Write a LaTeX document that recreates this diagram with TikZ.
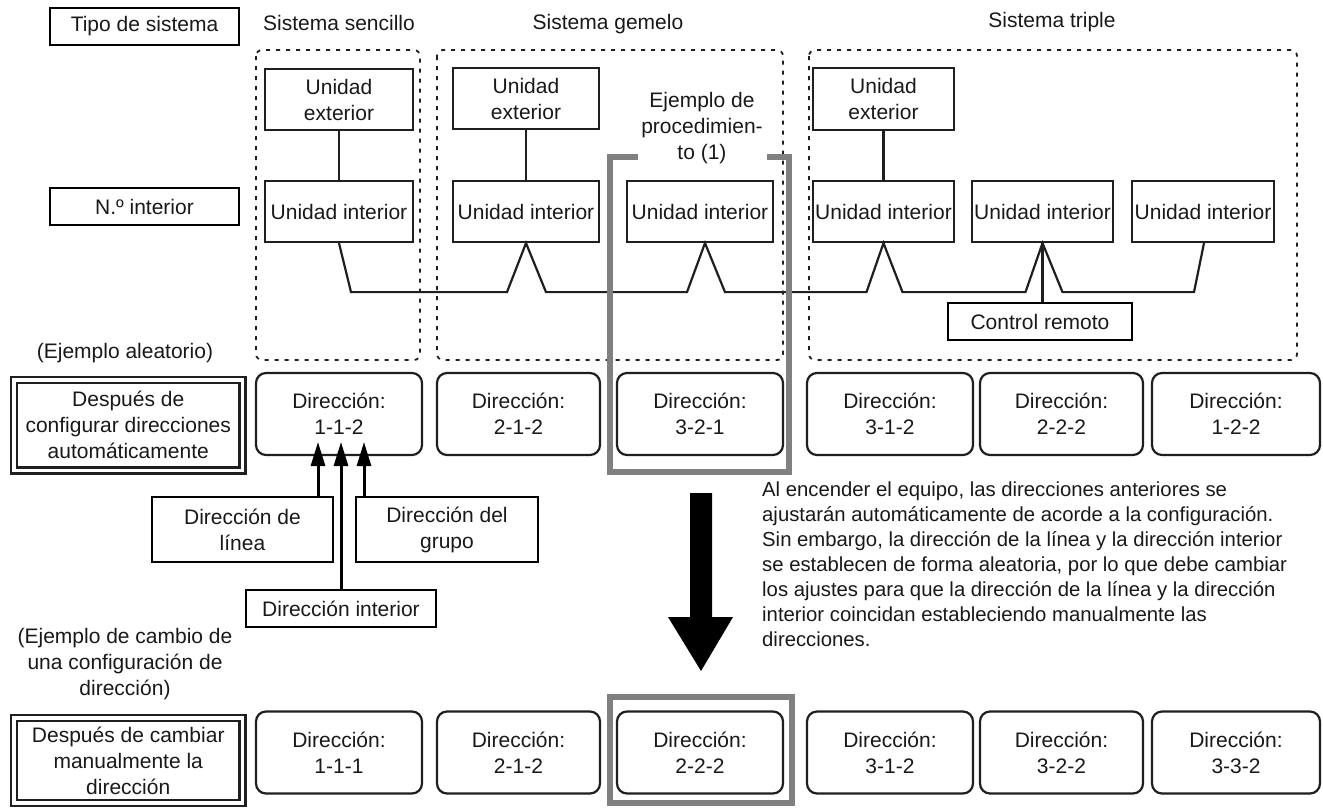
\documentclass[tikz,border=0pt]{standalone}
\usepackage{fontspec}
\setmainfont{Liberation Sans}
\usetikzlibrary{arrows.meta,calc}
\begin{document}
\begin{tikzpicture}[x=1pt,y=-1pt,
  font=\fontsize{21}{26}\selectfont,
  every node/.style={inner sep=0pt, align=center, text=black!90},
  box/.style={draw=black!88, line width=2.2pt},
  lbl/.style={draw=black, line width=2.8pt},
  addr/.style={draw=black!88, line width=2.2pt, rounded corners=10pt, minimum height=82pt},
  dbl/.style={draw=black!88, double=white, line width=2.2pt, double distance=3.8pt},
  grp/.style={draw=black!88, line width=1.8pt, dash pattern=on 4pt off 6pt, rounded corners=6pt},
  conn/.style={draw=black!88, line width=2.2pt, line join=miter},
  ptr/.style={draw=black, line width=3pt, -{Triangle[width=14pt,length=24pt]}},
  hl/.style={draw=black!50, line width=6.5pt}]
\useasboundingbox (0,0) rectangle (1323,807);
\fill[white] (0,0) rectangle (1323,807);

% left labels
\node[lbl, line width=2.4pt, minimum width=189pt, minimum height=37pt] (tipo) at (144.5,26.5) {Tipo de sistema};
\node[lbl, line width=2.4pt, minimum width=189pt, minimum height=37pt] (nint) at (144.5,206.5) {N.º interior};

% system titles
\node (ls) at (339,23) {Sistema sencillo};
\node (lt) at (608,24) {Sistema gemelo};
\node (lr) at (1052,22) {Sistema triple};

% group frames
\draw[grp] (256,50) rectangle (420,360);
\draw[grp] (437,50) rectangle (783,360);
\draw[grp] (809,50) rectangle (1297,360);

% outdoor units
\node[box, minimum width=148pt, minimum height=61pt] (so) at (339,99.5) {Unidad\\exterior};
\node[box, minimum width=146pt, minimum height=61pt] (to) at (526,98.5) {Unidad\\exterior};
\node[box, minimum width=141pt, minimum height=62pt] (ro) at (883.5,99) {Unidad\\exterior};

% indoor units
\node[box, minimum width=148pt, minimum height=61pt] (si) at (339,211.5) {Unidad interior};
\node[box, minimum width=146pt, minimum height=61pt] (ti1) at (526,211.5) {Unidad interior};
\node[box, minimum width=146pt, minimum height=61pt] (ti2) at (700,211.5) {Unidad interior};
\node[box, minimum width=141pt, minimum height=61pt] (ri1) at (883.5,211.5) {Unidad interior};
\node[box, minimum width=141pt, minimum height=61pt] (ri2) at (1042.5,211.5) {Unidad interior};
\node[box, minimum width=142pt, minimum height=61pt] (ri3) at (1203,211.5) {Unidad interior};

\node (proc) at (702,128) {Ejemplo de\\procedimien-\\to (1)};

% outdoor-indoor connections
\draw[conn] (so.south) -- (si.north);
\draw[conn] (to.south) -- (ti1.north);
\draw[conn] (ro.south) -- (ri1.north);

% bus
\draw[conn] (si.south) -- ($(si.south)+(12,49)$)
  -- ($(ti1.south)+(-19,49)$) -- (ti1.south) -- ($(ti1.south)+(20,49)$)
  -- ($(ti2.south)+(-13,49)$) -- ($(ti2.south)+(5,0)$) -- ($(ti2.south)+(25,49)$)
  -- ($(ri1.south)+(-17,49)$) -- (ri1.south) -- ($(ri1.south)+(19,49)$)
  -- ($(ri2.south)+(-17,49)$) -- (ri2.south) -- ($(ri2.south)+(20,49)$)
  -- ($(ri3.south)+(-9,49)$) -- ($(ri3.south)+(1,0)$);

% remote control
\node[lbl, minimum width=184pt, minimum height=37pt] (rc) at (1040,321.5) {Control remoto};
\draw[conn] (ri2.south) -- (ri2.south |- rc.north);

% highlight brackets
\draw[hl] (638,157) -- (610,157) -- (610,472) -- (789,472) -- (789,157) -- (767,157);
\draw[hl] (610,697) rectangle (792,803);

% row labels
\node (ealt) at (125,353) {(Ejemplo aleatorio)};
\node[dbl, minimum width=228.5pt, minimum height=90.5pt] (auto) at (128.25,425.25) {Después de\\configurar direcciones\\automáticamente};
\node (ecam) at (125,664) {(Ejemplo de cambio de\\una configuración de\\dirección)};
\node[dbl, minimum width=228.5pt, minimum height=85pt] (manual) at (128.25,760.5) {Después de cambiar\\manualmente la\\dirección};

% address row 1
\node[addr, minimum width=166pt] (a1) at (339,414) {Dirección:\\1-1-2};
\node[addr, minimum width=163pt] (a2) at (518.5,414) {Dirección:\\2-1-2};
\node[addr, minimum width=166pt] (a3) at (700,414) {Dirección:\\3-2-1};
\node[addr, minimum width=166pt] (a4) at (890,414) {Dirección:\\3-1-2};
\node[addr, minimum width=163pt] (a5) at (1061.5,414) {Dirección:\\2-2-2};
\node[addr, minimum width=168pt] (a6) at (1236,414) {Dirección:\\1-2-2};

% address row 2
\node[addr, minimum width=166pt] (b1) at (339,752.5) {Dirección:\\1-1-1};
\node[addr, minimum width=163pt] (b2) at (518.5,752.5) {Dirección:\\2-1-2};
\node[addr, minimum width=166pt] (b3) at (700,752.5) {Dirección:\\2-2-2};
\node[addr, minimum width=166pt] (b4) at (890,752.5) {Dirección:\\3-1-2};
\node[addr, minimum width=163pt] (b5) at (1061.5,752.5) {Dirección:\\3-2-2};
\node[addr, minimum width=168pt] (b6) at (1236,752.5) {Dirección:\\3-3-2};

% pointer labels
\node[lbl, minimum width=181pt, minimum height=65pt] (dl) at (242.5,529.5) {Dirección de\\línea};
\node[lbl, minimum width=182pt, minimum height=65pt] (dg) at (447,529.5) {Dirección del\\grupo};
\node[lbl, minimum width=190pt, minimum height=37pt] (di) at (341,608.5) {Dirección interior};
\coordinate (p1) at (318,442);
\coordinate (p2) at (341,442);
\coordinate (p3) at (364,442);
\draw[ptr] (dl.north -| p1) -- (p1);
\draw[ptr] (di.north -| p2) -- (p2);
\draw[ptr] (dg.north -| p3) -- (p3);

% big arrow
\fill[black] (690,493) -- (712,493) -- (712,617) -- (733,617) -- (701,671) -- (668,617) -- (690,617) -- cycle;

% paragraph
\node[align=left, anchor=north west, font=\fontsize{20.3}{25}\selectfont] (para) at (762,482) {Al encender el equipo, las direcciones anteriores se\\ajustarán automáticamente de acorde a la configuración.\\Sin embargo, la dirección de la línea y la dirección interior\\se establecen de forma aleatoria, por lo que debe cambiar\\los ajustes para que la dirección de la línea y la dirección\\interior coincidan estableciendo manualmente las\\direcciones.};
\end{tikzpicture}
\end{document}
